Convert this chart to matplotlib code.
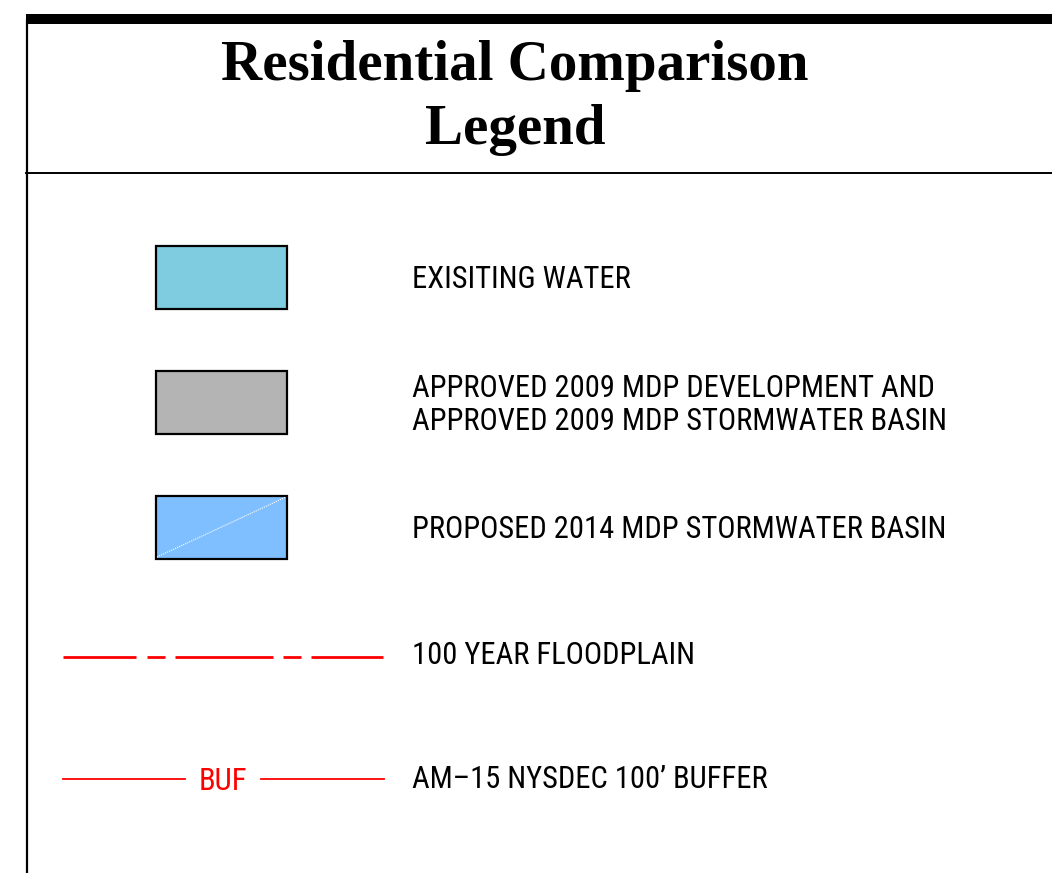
import matplotlib
matplotlib.use("Agg")
import matplotlib.pyplot as plt
from matplotlib import font_manager
from matplotlib.patches import Rectangle

# legend content
title_lines = ["Residential Comparison", "Legend"]
swatch_colors = ["#7FCCE0", "#B4B4B4", "#80BFFF"]
swatch_labels = [
    "EXISITING WATER",
    "APPROVED 2009 MDP DEVELOPMENT AND\nAPPROVED 2009 MDP STORMWATER BASIN",
    "PROPOSED 2014 MDP STORMWATER BASIN",
]
line_labels = ["100 YEAR FLOODPLAIN", "AM\u201315 NYSDEC 100\u2019 BUFFER"]
line_color = "#FF0000"
buffer_tag = "BUF"


def pick_font(names):
    for n in names:
        try:
            font_manager.findfont(font_manager.FontProperties(family=n), fallback_to_default=False)
            return n
        except Exception:
            pass
    return "DejaVu Sans"


cad_font = pick_font(["Liberation Sans Narrow", "DejaVu Sans Condensed", "Roboto Condensed", "DejaVu Sans"])
plt.rcParams["lines.scale_dashes"] = False  # dash lengths in points, not scaled by width

W, H = 1052, 873
fig = plt.figure(figsize=(W / 100, H / 100), dpi=100)
ax = fig.add_axes([0, 0, 1, 1])
ax.set_xlim(0, W)
ax.set_ylim(H, 0)
ax.axis("off")

# frame: thick top band, left edge, divider under the title
ax.add_patch(Rectangle((26, 14), W - 26, 10, color="black", lw=0))
ax.plot([26.5, 26.5], [20, H], color="black", lw=1.6)
ax.plot([26, W], [173, 173], color="black", lw=1.4)

# title
ax.text(515, 66, title_lines[0], ha="center", va="center", family="Liberation Serif",
        weight="bold", fontsize=41)
ax.text(515, 130, title_lines[1], ha="center", va="center", family="Liberation Serif",
        weight="bold", fontsize=41)

# filled swatches
row_y = [277, 402, 527]
for i, (c, lab) in enumerate(zip(swatch_colors, swatch_labels)):
    y0 = row_y[i] - 31.5
    ax.add_patch(Rectangle((156, y0), 131, 63, facecolor=c, edgecolor="black", lw=1.6))
    ax.text(412, row_y[i] + 3, lab, ha="left", va="center", family=cad_font,
            fontsize=22, linespacing=1.15)
# hatch diagonal on the proposed basin
ax.plot([157, 286], [row_y[2] + 30, row_y[2] - 30], color="white", lw=0.8, ls=(0, (0.8, 0.8)))

# floodplain line: long - short - long - short - long (lengths in points at 100 dpi)
ax.plot([63, 383], [657, 657], color=line_color, lw=2,
        ls=(0, (73 * 0.72, 11 * 0.72, 18 * 0.72, 10 * 0.72, 98 * 0.72, 10 * 0.72, 18 * 0.72, 10 * 0.72)))
ax.text(412, 656, line_labels[0], ha="left", va="center", family=cad_font, fontsize=22)

# buffer line with BUF tag
ax.plot([63, 185], [779, 779], color=line_color, lw=1.3)
ax.plot([261, 384], [779, 779], color=line_color, lw=1.3)
ax.text(223, 781, buffer_tag, ha="center", va="center", family=cad_font,
        fontsize=22, color=line_color)
ax.text(412, 780, line_labels[1], ha="left", va="center", family=cad_font, fontsize=22)

fig.savefig("out.png", dpi=100)
